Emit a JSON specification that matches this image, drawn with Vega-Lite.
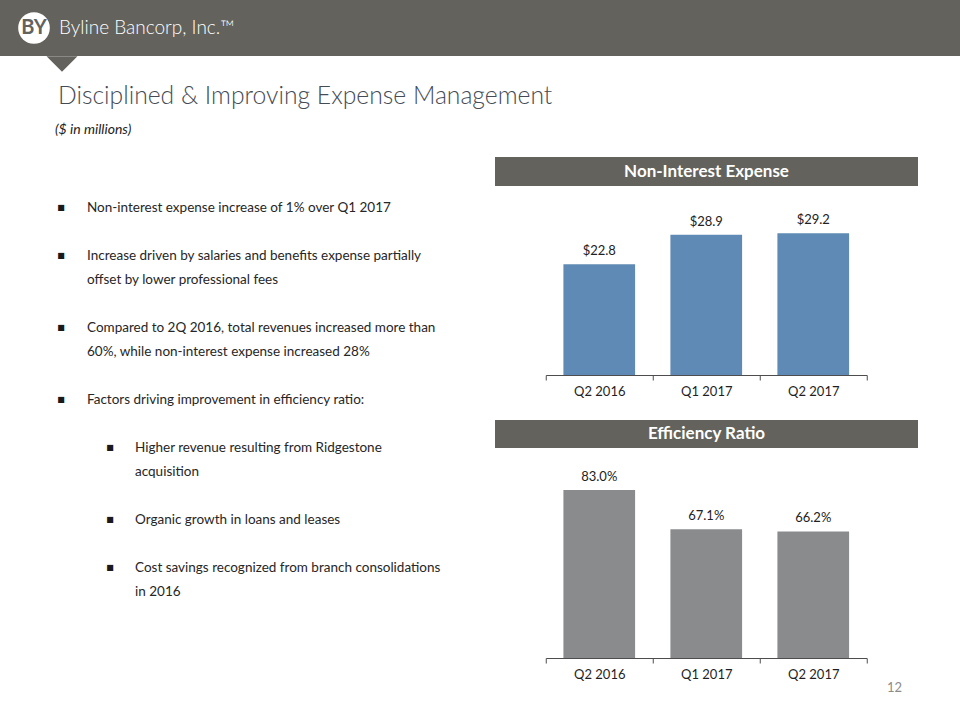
{
  "$schema": "https://vega.github.io/schema/vega-lite/v6.json",
  "padding": 0,
  "spacing": 0,
  "background": "white",
  "config": {
    "view": {"stroke": null},
    "font": "Lato",
    "axis": {
      "title": null,
      "labelAngle": 0,
      "labelFont": "Lato",
      "labelFontSize": 13,
      "labelColor": "#1f1f1f",
      "domainColor": "#4d4d4d",
      "tickColor": "#4d4d4d",
      "tickSize": 5,
      "tickBand": "extent",
      "labelPadding": 5,
      "grid": false
    }
  },
  "datasets": {
    "logo": [
      {"part": "mark", "text": "BY"},
      {"part": "name", "text": "Byline Bancorp, Inc.™"}
    ],
    "notch": [{"shape": "notch"}],
    "titles": [
      {"kind": "title", "text": "Disciplined & Improving Expense Management"},
      {"kind": "subtitle", "text": "($ in millions)"}
    ],
    "bullets": [
      {"line": 0, "level": 1, "bullet": true, "text": "Non-interest expense increase of 1% over Q1 2017"},
      {"line": 2, "level": 1, "bullet": true, "text": "Increase driven by salaries and benefits expense partially"},
      {"line": 3, "level": 1, "bullet": false, "text": "offset by lower professional fees"},
      {"line": 5, "level": 1, "bullet": true, "text": "Compared to 2Q 2016, total revenues increased more than"},
      {"line": 6, "level": 1, "bullet": false, "text": "60%, while non-interest expense increased 28%"},
      {"line": 8, "level": 1, "bullet": true, "text": "Factors driving improvement in efficiency ratio:"},
      {"line": 10, "level": 2, "bullet": true, "text": "Higher revenue resulting from Ridgestone"},
      {"line": 11, "level": 2, "bullet": false, "text": "acquisition"},
      {"line": 13, "level": 2, "bullet": true, "text": "Organic growth in loans and leases"},
      {"line": 15, "level": 2, "bullet": true, "text": "Cost savings recognized from branch consolidations"},
      {"line": 16, "level": 2, "bullet": false, "text": "in 2016"}
    ],
    "headers": [
      {"chart": "expense", "text": "Non-Interest Expense"},
      {"chart": "efficiency", "text": "Efficiency Ratio"}
    ],
    "expense": [
      {"quarter": "Q2 2016", "value": 22.8},
      {"quarter": "Q1 2017", "value": 28.9},
      {"quarter": "Q2 2017", "value": 29.2}
    ],
    "efficiency": [
      {"quarter": "Q2 2016", "ratio": 0.830},
      {"quarter": "Q1 2017", "ratio": 0.671},
      {"quarter": "Q2 2017", "ratio": 0.662}
    ],
    "page": [{"page": "12"}]
  },
  "vconcat": [
    {
      "width": 960, "height": 56,
      "view": {"fill": "#63625c", "stroke": null},
      "data": {"name": "logo"},
      "encoding": {
        "x": {"field": "part", "type": "nominal", "scale": {"type": "point", "domain": ["mark", "name"], "range": [34, 59], "padding": 0}, "axis": null}
      },
      "layer": [
        {"transform": [{"filter": "datum.part === 'mark'"}], "mark": {"type": "point", "shape": "circle", "size": 1000, "filled": true, "color": "white", "opacity": 1, "strokeWidth": 0}},
        {"transform": [{"filter": "datum.part === 'mark'"}], "mark": {"type": "text", "fontSize": 20, "fontWeight": "bold", "color": "#63625c", "baseline": "middle", "align": "center"}, "encoding": {"text": {"field": "text"}}},
        {"transform": [{"filter": "datum.part === 'name'"}], "mark": {"type": "text", "fontSize": 19, "fontWeight": 300, "color": "white", "baseline": "middle", "align": "left"}, "encoding": {"text": {"field": "text"}}}
      ]
    },
    {
      "width": 124, "height": 16,
      "data": {"name": "notch"},
      "mark": {"type": "point", "shape": "M-1,-0.5L1,-0.5L0,0.5Z", "size": 961, "filled": true, "color": "#63625c", "opacity": 1, "strokeWidth": 0},
      "encoding": {}
    },
    {
      "width": 600, "height": 85,
      "data": {"name": "titles"},
      "encoding": {
        "x": {"field": "kind", "type": "nominal", "scale": {"type": "point", "domain": ["title", "subtitle"], "range": [58, 55], "padding": 0}, "axis": null},
        "y": {"field": "kind", "type": "nominal", "scale": {"type": "point", "domain": ["title", "subtitle"], "range": [25, 58], "padding": 0}, "axis": null},
        "text": {"field": "text"}
      },
      "layer": [
        {"transform": [{"filter": "datum.kind === 'title'"}], "mark": {"type": "text", "fontSize": 24.7, "fontWeight": 300, "color": "#444b55", "align": "left", "baseline": "middle"}},
        {"transform": [{"filter": "datum.kind === 'subtitle'"}], "mark": {"type": "text", "fontSize": 14, "fontStyle": "italic", "color": "#222222", "align": "left", "baseline": "middle"}}
      ]
    },
    {
      "hconcat": [
        {
          "width": 470, "height": 450,
          "data": {"name": "bullets"},
          "layer": [
            {
              "mark": {"type": "text", "fontSize": 13.5, "color": "#262626", "align": "left", "baseline": "middle"},
              "encoding": {
                "x": {"field": "level", "type": "ordinal", "scale": {"type": "point", "domain": [1, 2], "range": [87, 135], "padding": 0}, "axis": null},
                "y": {"field": "line", "type": "quantitative", "scale": {"domain": [0, 16], "range": [51, 435]}, "axis": null},
                "text": {"field": "text"}
              }
            },
            {
              "transform": [{"filter": "datum.bullet"}],
              "mark": {"type": "text", "text": "■", "font": "DejaVu Sans", "fontSize": 8, "color": "#1a1a1a", "align": "center", "baseline": "middle"},
              "encoding": {
                "x": {"field": "level", "type": "ordinal", "scale": {"type": "point", "domain": [1, 2], "range": [61, 110], "padding": 0}, "axis": null},
                "y": {"field": "line", "type": "quantitative", "scale": {"domain": [0, 16], "range": [51, 435]}, "axis": null}
              }
            }
          ],
          "resolve": {"scale": {"x": "independent"}}
        },
        {
          "vconcat": [
            {
              "vconcat": [
                {
                  "width": 423, "height": 29,
                  "view": {"fill": "#63625c", "stroke": null},
                  "data": {"name": "headers"},
                  "transform": [{"filter": "datum.chart === 'expense'"}],
                  "mark": {"type": "text", "color": "white", "fontSize": 17, "fontWeight": "bold", "baseline": "middle", "align": "center"},
                  "encoding": {"text": {"field": "text"}}
                },
                {
                  "width": 321, "height": 170,
                  "data": {"name": "expense"},
                  "encoding": {
                    "x": {"field": "quarter", "type": "nominal", "sort": null, "scale": {"paddingInner": 0, "paddingOuter": 0}},
                    "y": {"field": "value", "type": "quantitative", "scale": {"domain": [0, 35]}, "axis": null}
                  },
                  "layer": [
                    {"mark": {"type": "bar", "color": "#5f8ab5", "width": {"band": 0.67}}},
                    {"mark": {"type": "text", "dy": -13, "baseline": "middle", "fontSize": 13, "color": "#222222"}, "encoding": {"text": {"field": "value", "type": "quantitative", "format": "$.1f"}}}
                  ]
                }
              ],
              "spacing": 19,
              "center": true
            },
            {
              "vconcat": [
                {
                  "vconcat": [
                    {
                      "width": 423, "height": 28,
                      "view": {"fill": "#63625c", "stroke": null},
                      "data": {"name": "headers"},
                      "transform": [{"filter": "datum.chart === 'efficiency'"}],
                      "mark": {"type": "text", "color": "white", "fontSize": 17, "fontWeight": "bold", "baseline": "middle", "align": "center"},
                      "encoding": {"text": {"field": "text"}}
                    },
                    {
                      "width": 321, "height": 191,
                      "data": {"name": "efficiency"},
                      "encoding": {
                        "x": {"field": "quarter", "type": "nominal", "sort": null, "scale": {"paddingInner": 0, "paddingOuter": 0}},
                        "y": {"field": "ratio", "type": "quantitative", "scale": {"domain": [0.15, 0.923]}, "axis": null}
                      },
                      "layer": [
                        {"mark": {"type": "bar", "color": "#8a8b8d", "clip": true, "width": {"band": 0.67}}},
                        {"mark": {"type": "text", "dy": -13, "baseline": "middle", "fontSize": 13, "color": "#222222"}, "encoding": {"text": {"field": "ratio", "type": "quantitative", "format": ".1%"}}}
                      ]
                    }
                  ],
                  "spacing": 19,
                  "center": true
                },
                {
                  "width": 423, "height": 14,
                  "data": {"name": "page"},
                  "mark": {"type": "text", "x": "width", "dx": -16, "align": "right", "baseline": "middle", "fontSize": 13, "color": "#8c8c8c"},
                  "encoding": {"text": {"field": "page"}}
                }
              ],
              "spacing": 0
            }
          ],
          "spacing": 22
        }
      ],
      "spacing": 25
    }
  ]
}
